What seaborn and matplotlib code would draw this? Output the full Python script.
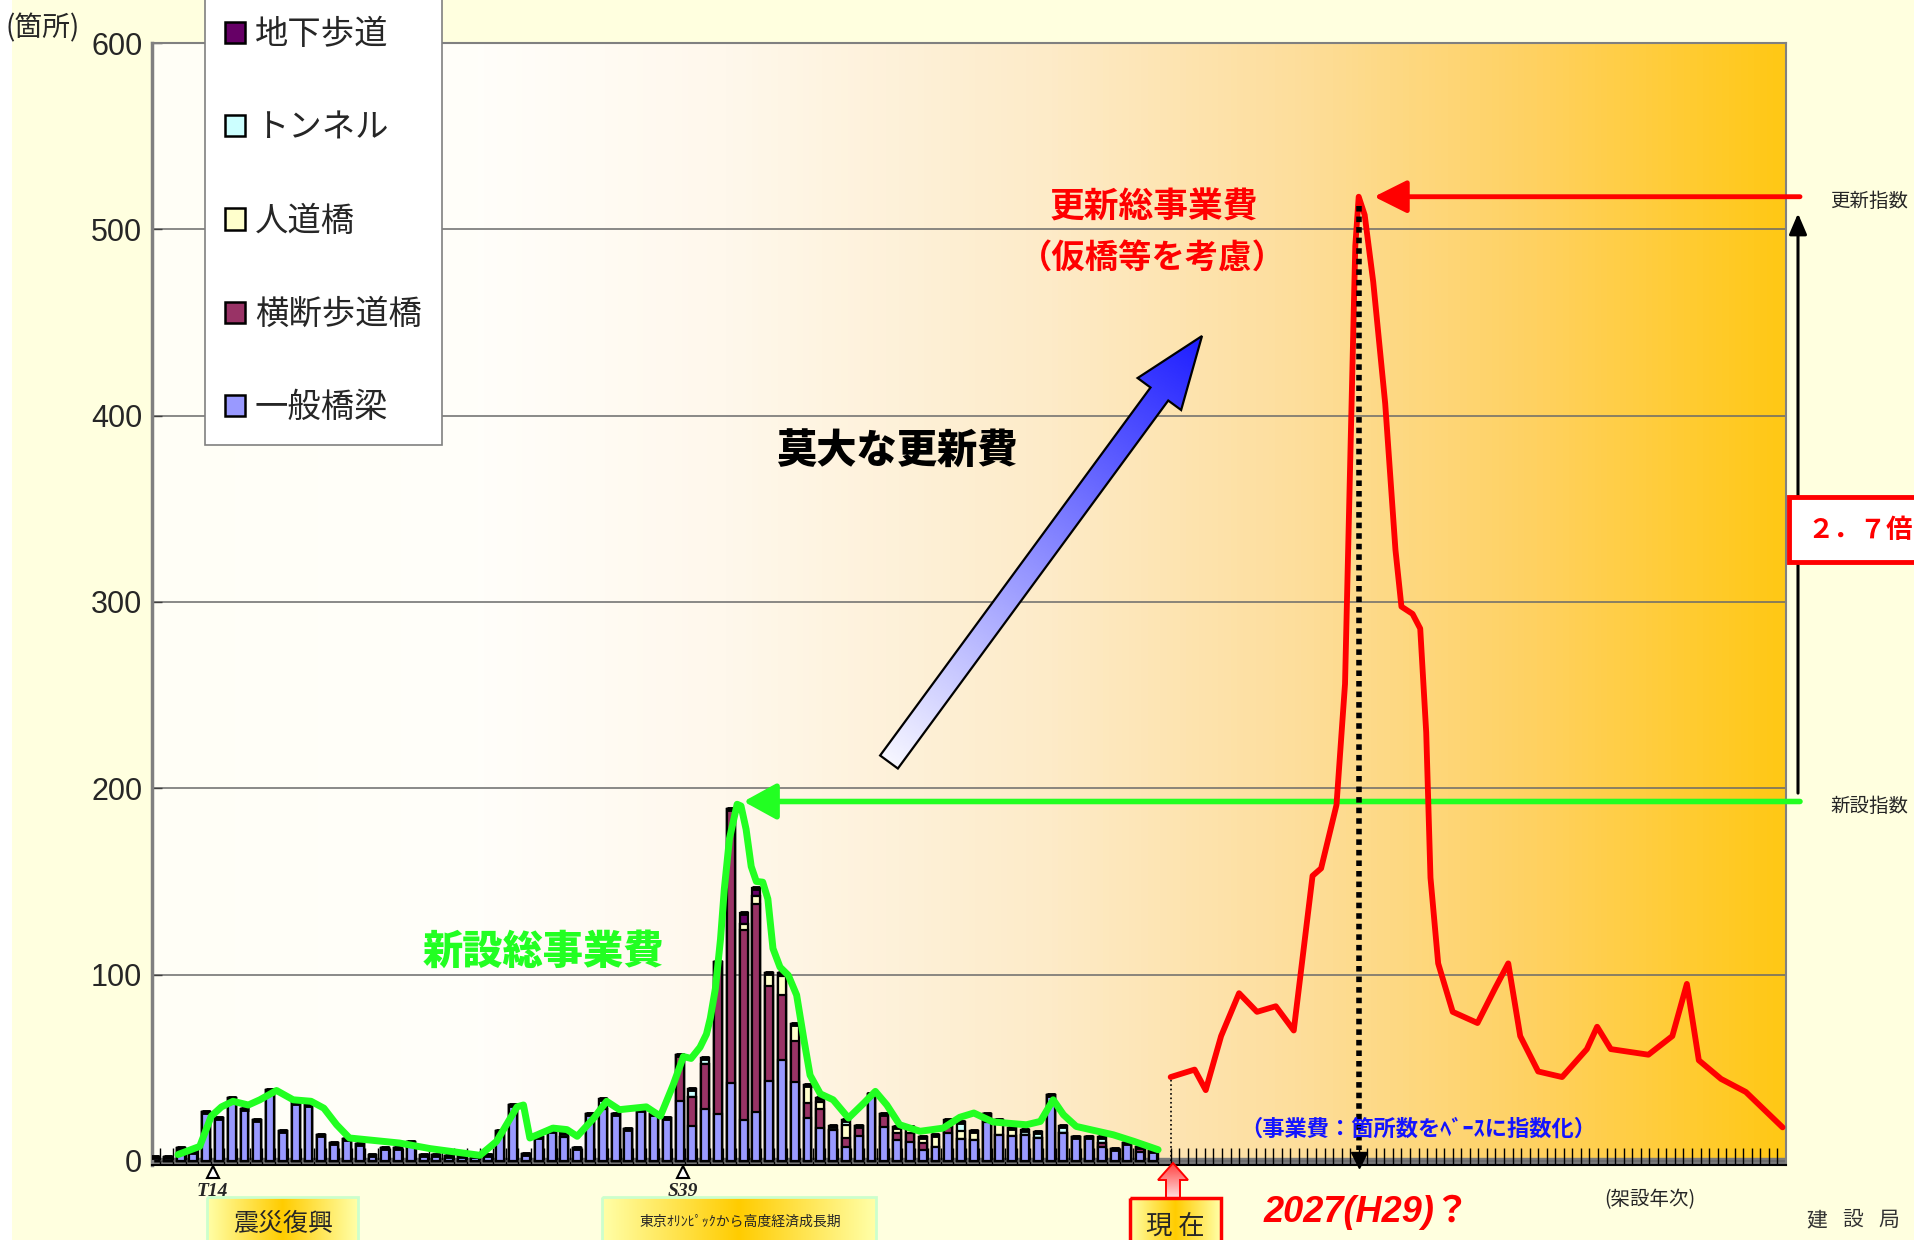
import numpy as np
import pandas as pd
import matplotlib
matplotlib.use("Agg")
import matplotlib.pyplot as plt
import seaborn as sns
from matplotlib.colors import LinearSegmentedColormap
from matplotlib.patches import Polygon, Rectangle, Patch
from matplotlib import font_manager

# ---------------------------------------------------------------- data
# structures built per year (79 consecutive construction years, stacked)
ippan = [2, 2, 7, 5, 26.5, 23, 34, 28, 22, 38,
         16, 31, 30, 14, 9.6, 12, 9, 3.4, 7, 7,
         10, 3, 3, 2.5, 2.5, 2.5, 3.4, 16, 30, 3.7,
         13, 16, 13, 7, 25, 28, 25, 17, 27.5, 25,
         23, 32, 18.5, 28, 25, 42, 22, 26, 43, 54,
         42.4, 23, 17.6, 16.5, 7.5, 13.5, 36, 18, 11, 10,
         5.8, 7.7, 15, 12, 11, 21, 14, 13.6, 13.8, 12.5,
         35.5, 15, 12.8, 12.7, 7.7, 6.4, 9.6, 4.8, 5.2]
oudan = [0, 0, 0, 0, 0, 0, 0, 0, 0, 0,
         0, 0, 0, 0, 0, 0, 0, 0, 0, 0,
         0, 0, 0, 0, 0, 0, 0, 0, 0, 0,
         0, 0, 0, 0, 0, 0, 0, 0, 0, 0,
         0, 25, 16, 24, 82, 147, 102, 112, 51, 35,
         22, 8, 10, 0, 5, 5, 0, 7, 4, 5,
         4, 0, 3, 0, 0, 4, 0, 0, 0, 0,
         0, 0, 0, 0, 2, 0, 0, 2.5, 0]
jindo = [0, 0, 0, 0, 0, 0, 0, 0, 0, 0,
         0, 0, 0, 0, 0, 0, 0, 0, 0, 0,
         0, 0, 0, 0, 0, 0, 0, 0, 0, 0,
         0, 0, 0, 0, 0, 0, 0, 0, 0, 0,
         0, 0, 0, 0, 0, 0, 3, 4, 7, 10,
         9, 10, 4, 0, 7, 0, 0, 0, 3, 3,
         3, 6, 0, 4, 5, 0, 8, 4, 0, 0,
         0, 0, 0, 0, 0, 0, 0, 0, 0]
tunnel = [0, 0, 0, 0, 0, 0, 0, 0, 0, 0,
          0, 0, 0, 0, 0, 0, 0, 0, 0, 0,
          0, 0, 0, 0, 0, 0, 0, 0, 0, 0,
          0, 0, 2, 0, 0, 5, 0, 0, 0, 0,
          0, 0, 4, 3, 0, 0, 0, 0, 0, 2,
          0, 0, 2.1, 2, 2.5, 0, 0, 0, 0, 0,
          0, 0, 4, 5, 0, 0, 0, 0, 3, 3,
          0, 4, 0, 0, 3, 0, 0, 0, 0]
chika = [0, 0, 0, 0, 0, 0, 0, 0, 0, 0,
         0, 0, 0, 0, 0, 0, 0, 0, 0, 0,
         0, 0, 0, 0, 0, 0, 0, 0, 0, 0,
         0, 0, 0, 0, 0, 0, 0, 0, 0, 0,
         0, 0, 0, 0, 0, 0, 6, 4.5, 0, 0,
         0, 0, 0, 0, 0, 0, 0, 0, 0, 0,
         0, 0, 0, 0, 0, 0, 0, 0, 0, 0,
         0, 0, 0, 0, 0, 0, 0, 0, 0]

# new-construction cost index along the same year axis
new_x = [1.8, 3.5, 4.4, 5.2, 6.1, 7.3, 8.2, 9.5, 10.8, 12.2, 13.2, 14.2, 15.2,
         16.5, 19.1, 21.5, 25.4, 26.7, 28.3, 28.8, 29.3, 31.1, 32.2, 33.0, 34.3,
         35.3, 36.3, 38.4, 39.5, 40.5, 41.3, 41.9, 42.6, 43.1, 43.4, 43.8, 44.2,
         44.5, 44.9, 45.5, 45.8, 46.2, 46.6, 47.0, 47.5, 47.9, 48.3, 48.85, 49.5,
         50.15, 50.7, 51.2, 52.0, 53.0, 54.2, 55.4, 56.3, 57.2, 58.2, 59.8, 61.6,
         62.9, 64.0, 65.5, 68.1, 69.2, 70.2, 71.0, 72.0, 74.9, 76.5, 78.4]
new_y = [3.4, 7.8, 24, 29, 32, 30, 32.8, 37.8, 32.8, 32, 28.3, 19.4, 12.3,
         11.4, 9.6, 6.6, 3, 10.5, 29, 30, 12.3, 17.6, 16.8, 13.2, 23,
         32, 27.5, 29, 24, 40.8, 56, 55, 61, 68, 76.5, 92.5, 119,
         146, 173, 191.4, 190.5, 178, 158, 150, 149.6, 140.6, 114, 104, 99.6,
         89, 65.8, 46, 36, 32.8, 23, 31, 37.3, 30, 19.4, 15.9, 17.6,
         23.4, 25.7, 20.9, 19.4, 21.2, 32.8, 24.8, 18.5, 14, 10.5, 6]

# renewal cost index by year
renew_year = [2005.0, 2007.8, 2009.1, 2010.9, 2013.0, 2015.1, 2017.3, 2019.4,
              2021.6, 2022.6, 2024.4, 2025.4, 2026.0, 2026.6, 2027.0, 2027.7,
              2028.7, 2030.1, 2031.3, 2032.0, 2033.3, 2034.2, 2034.9, 2035.4,
              2036.3, 2038.0, 2040.9, 2043.0, 2044.5, 2045.9, 2048.0, 2050.8,
              2053.7, 2054.9, 2056.5, 2060.9, 2063.7, 2065.4, 2066.8, 2069.4,
              2072.3, 2076.6]
renew_val = [45, 49, 38, 67, 90, 80, 83, 70,
             153, 157, 191, 256, 374, 491, 517.5, 507.7,
             471.8, 406.5, 328, 297.5, 293.6, 285.7, 230, 152,
             106, 80, 74, 93, 106, 67, 48, 45,
             60, 72, 60, 57, 67, 95, 54, 44,
             37, 18]

PRESENT_YEAR = 2005
PEAK_YEAR = 2027
y_ticks = [0, 100, 200, 300, 400, 500, 600]
marker_pos = [4.5, 41.27]
marker_text = ["T14", "S39"]

series_names = ["一般橋梁", "横断歩道橋", "人道橋", "トンネル", "地下歩道"]
series_colors = ["#9999FF", "#993366", "#FFFFCC", "#CCFFFF", "#660066"]

# ---------------------------------------------------------------- style
sns.set_theme(style="white")
plt.rcParams["font.family"] = ["Noto Sans CJK JP", "DejaVu Sans"]
names = {f.name for f in font_manager.fontManager.ttflist}
narrow = "Liberation Sans Narrow" if "Liberation Sans Narrow" in names else "Liberation Sans"

W, H = 1914, 1240
fig = plt.figure(figsize=(W / 100, H / 100), dpi=100, facecolor="#FFFFDF")

def fx(px):
    return px / W

def fy(py):
    return 1 - py / H

Y0, Y1 = -2.2, 600
XL, XR = -0.23, 127.47
ax = fig.add_axes([fx(152), fy(1165), fx(1786) - fx(152), fy(43) - fy(1165)])
ax.set_axisbelow(True)

# plot-area background
bg_cmap = LinearSegmentedColormap.from_list(
    "bg", [(0, "#FFFFF6"), (0.2, "#FFFEFA"), (0.35, "#FFF8EC"), (0.55, "#FDEBC8"),
           (0.7, "#FDDE9C"), (0.85, "#FFD160"), (1, "#FFC815")])
ax.imshow(np.linspace(0, 1, 512)[None, :], extent=(XL, XR, Y0, Y1), aspect="auto",
          cmap=bg_cmap, zorder=0)
ax.axhspan(Y0, 1.4, color="#7A7A7A", zorder=0.3)

# stacked bars: draw cumulative totals from the top layer down
n = len(ippan)
stack = np.vstack([ippan, oudan, jindo, tunnel, chika])
cum = np.cumsum(stack, axis=0)
df = pd.DataFrame({"pos": np.arange(n)})
for k in range(5):
    df[f"c{k}"] = cum[k]
for k in range(4, -1, -1):
    sns.barplot(data=df, x="pos", y=f"c{k}", color=series_colors[k], saturation=1,
                width=0.62, edgecolor="black", linewidth=1.6, errorbar=None,
                ax=ax, zorder=2)
ax.plot(np.arange(n), cum[4], ls="none", marker="_", ms=6, mew=3.5, color="black", zorder=3)

# new-construction cost line
sns.lineplot(x=new_x, y=new_y, color="#22FF22", lw=5, ax=ax, zorder=4,
             estimator=None, sort=False, solid_capstyle="round", solid_joinstyle="round")

ax.set_xlim(XL, XR)
ax.set_ylim(Y0, Y1)
ax.set_xlabel("")
ax.set_ylabel("")
ax.set_yticks(y_ticks)
ax.set_yticklabels([str(v) for v in y_ticks], fontsize=22, fontfamily=narrow)
ax.set_xticks(np.arange(n) + 0.4)
ax.set_xticklabels([])
ax.tick_params(axis="y", direction="in", length=7, width=1, color="#404040", pad=7, left=True)
ax.tick_params(axis="x", direction="in", length=12, width=1, color="black", bottom=True)
ax.grid(axis="y", color="#6A6A6A", lw=1.1)
ax.grid(axis="x", visible=False)
for side in ["top", "right", "left"]:
    ax.spines[side].set_color("#808080")
    ax.spines[side].set_linewidth(1.5)
ax.spines["left"].set_linewidth(2.5)
ax.spines["bottom"].set_color("black")
ax.spines["bottom"].set_linewidth(1.5)

# renewal curve on its own year axis
ax2 = ax.twiny()
ax2.set_xlim(1885.8, 2077.0)
ax2.set_ylim(Y0, Y1)
sns.lineplot(x=renew_year, y=renew_val, color="#FF0000", lw=4.2, ax=ax2, zorder=4,
             estimator=None, sort=False, solid_capstyle="round", solid_joinstyle="round")
ax2.set_xlabel("")
ax2.set_ylabel("")
ax2.set_xticks(np.arange(PRESENT_YEAR, 2077))
ax2.xaxis.set_ticks_position("bottom")
ax2.tick_params(axis="x", direction="in", length=12, width=1, color="black",
                labelbottom=False, labeltop=False)
for s in ax2.spines.values():
    s.set_visible(False)

peak_val = max(renew_val)
new_peak = max(new_y)
new_peak_x = new_x[new_y.index(new_peak)]

# present marker line and peak drop line
ax2.vlines(PRESENT_YEAR, 0, renew_val[0], colors="black", linestyles=":", lw=1.2, zorder=3)
ax2.plot([PEAK_YEAR, PEAK_YEAR], [peak_val - 5, 6], color="black", lw=4,
         ls=(0, (1, 0.9)), zorder=5)
ax2.plot([PEAK_YEAR], [0.5], marker="v", ms=11, color="black", clip_on=False, zorder=5)

# index arrows on the right
ax2.annotate("", xy=(PEAK_YEAR + 1.8, peak_val), xytext=(1800, peak_val),
             textcoords=("figure pixels", "data"),
             arrowprops=dict(arrowstyle="-|>,head_length=1.0,head_width=0.5",
                             color="#FF0000", lw=3.5, shrinkA=0, shrinkB=0, mutation_scale=20))
ax.annotate("", xy=(new_peak_x + 0.5, new_peak + 1.5), xytext=(1800, new_peak + 1.5),
            textcoords=("figure pixels", "data"),
            arrowprops=dict(arrowstyle="-|>,head_length=1.0,head_width=0.55",
                            color="#22FF22", lw=4, shrinkA=0, shrinkB=0, mutation_scale=20))
ax.annotate("", xy=(1798, peak_val - 9), xycoords=("figure pixels", "data"),
            xytext=(1798, new_peak + 6), textcoords=("figure pixels", "data"),
            arrowprops=dict(arrowstyle="-|>,head_length=0.7,head_width=0.3",
                            color="black", lw=2.2, shrinkA=0, shrinkB=0, mutation_scale=18))

# era markers under the axis
for xp, txt in zip(marker_pos, marker_text):
    ax.plot([xp], [-0.006], transform=ax.get_xaxis_transform(), marker="^", ms=8,
            mfc="white", mec="black", mew=1.5, clip_on=False, zorder=6)
    ax.text(xp, -0.024, txt, transform=ax.get_xaxis_transform(), ha="center", va="center",
            fontsize=14, fontfamily="Liberation Serif", fontstyle="italic",
            fontweight="bold")

# legend
handles = [Patch(fc=series_colors[k], ec="black", lw=1.8) for k in range(4, -1, -1)]
labels = [series_names[k] for k in range(4, -1, -1)]
leg = fig.legend(handles, labels, loc="upper left", bbox_to_anchor=(fx(205), fy(-3)),
                 borderaxespad=0, fontsize=24, handlelength=0.6, handleheight=0.6,
                 handletextpad=0.3, labelspacing=1.75, borderpad=0.6, frameon=True,
                 fancybox=False, framealpha=1, facecolor="white", edgecolor="#808080")
leg.get_frame().set_linewidth(1.2)

# ---------------------------------------------------------------- overlay in pixel space
ov = fig.add_axes([0, 0, 1, 1])
ov.set_xlim(0, W)
ov.set_ylim(H, 0)
ov.axis("off")
ov.patch.set_visible(False)


def gradient_arrow(tail, tip, shaft_w, head_w, head_len, c0, c1, ec="black", lw=1.6):
    tail = np.asarray(tail, float)
    tip = np.asarray(tip, float)
    d = tip - tail
    L = np.hypot(*d)
    u = d / L
    nv = np.array([-u[1], u[0]])
    base = tip - head_len * u
    pts = [tail + shaft_w / 2 * nv, base + shaft_w / 2 * nv, base + head_w / 2 * nv, tip,
           base - head_w / 2 * nv, base - shaft_w / 2 * nv, tail - shaft_w / 2 * nv]
    poly = Polygon(pts, closed=True, fc="none", ec=ec, lw=lw, zorder=6)
    ov.add_patch(poly)
    xs = [p[0] for p in pts]
    ys = [p[1] for p in pts]
    x0, x1, y0, y1 = min(xs) - 2, max(xs) + 2, min(ys) - 2, max(ys) + 2
    gx, gy = np.meshgrid(np.linspace(x0, x1, 300), np.linspace(y0, y1, 300))
    t = ((gx - tail[0]) * u[0] + (gy - tail[1]) * u[1]) / L
    cmap = LinearSegmentedColormap.from_list("arr", [c0, c1])
    im = ov.imshow(np.clip(t, 0, 1), extent=(x0, x1, y1, y0), origin="upper", cmap=cmap,
                   vmin=0, vmax=1, aspect="auto", zorder=5, interpolation="bilinear")
    im.set_clip_path(poly)


def gradient_box(x0, y0, w, h, ec, lw, colors):
    rect = Rectangle((x0, y0), w, h, fc="none", ec=ec, lw=lw, zorder=6)
    ov.add_patch(rect)
    cmap = LinearSegmentedColormap.from_list("box", colors)
    im = ov.imshow(np.linspace(0, 1, 256)[None, :], extent=(x0, x0 + w, y0 + h, y0),
                   cmap=cmap, aspect="auto", zorder=5)
    im.set_clip_path(rect)


gradient_arrow((889, 762), (1202, 336), 22, 54, 72, "#F6F6FF", "#1E1EFF")
gradient_arrow((1173, 1198), (1173, 1163), 14, 30, 17, "#FFE0E0", "#FF4040", ec="#FF0000", lw=1.4)
gold = ["#FFFFA8", "#FFCC00", "#FFFFA8"]
gradient_box(207, 1197, 151, 50, "#CCFFCC", 2, gold)
gradient_box(602, 1197, 274, 50, "#CCFFCC", 2, gold)
gradient_box(1130, 1198, 91, 50, "#FF0000", 2.5, gold)
ov.add_patch(Rectangle((1789, 497), 140, 65, fc="white", ec="#FF0000", lw=3.5, zorder=6))
ov.add_patch(Rectangle((0, 0), 12, H, fc="white", ec="none", zorder=1))
ov.set_xlim(0, W)
ov.set_ylim(H, 0)

# labels and annotations
ov.text(6, 28, "(箇所)", ha="left", va="center", fontsize=20, zorder=7)
ov.text(1154, 207, "更新総事業費", ha="center", va="center", fontsize=25,
        fontweight="bold", color="#FF0000", zorder=7)
ov.text(1152, 259, "（仮橋等を考慮）", ha="center", va="center", fontsize=24,
        fontweight="bold", color="#FF0000", zorder=7)
ov.text(897, 452, "莫大な更新費", ha="center", va="center", fontsize=29,
        fontweight="heavy", color="black", zorder=7)
ov.text(543, 952, "新設総事業費", ha="center", va="center", fontsize=29,
        fontweight="heavy", color="#22FF22", zorder=7)
ov.text(1418, 1129, "（事業費：箇所数をﾍﾞｰｽに指数化）", ha="center", va="center",
        fontsize=16, fontweight="bold", color="#1414FF", zorder=7)
ov.text(1367, 1212, "2027(H29)？", ha="center", va="center", fontsize=26,
        fontweight="bold", fontstyle="italic", color="#FF0000",
        family=[narrow, "Noto Sans CJK JP"], zorder=7)
ov.text(1650, 1200, "(架設年次)", ha="center", va="center", fontsize=14, zorder=7)
for cx, ch in zip([1817, 1853, 1889], ["建", "設", "局"]):
    ov.text(cx, 1220, ch, ha="center", va="center", fontsize=15, color="#333333", zorder=7)
ov.text(1830, 201, "更新指数", ha="left", va="center", fontsize=14, zorder=7)
ov.text(1830, 806, "新設指数", ha="left", va="center", fontsize=14, zorder=7)
ov.text(1860, 530, "２．７倍", ha="center", va="center", fontsize=19,
        fontweight="bold", color="#FF0000", zorder=7)
ov.text(283, 1224, "震災復興", ha="center", va="center", fontsize=18, zorder=7)
ov.text(740, 1222, "東京ｵﾘﾝﾋﾟｯｸから高度経済成長期", ha="center", va="center",
        fontsize=10, zorder=7)
ov.text(1175, 1226, "現 在", ha="center", va="center", fontsize=19, zorder=7)

fig.savefig("out.png", dpi=100, facecolor=fig.get_facecolor())
